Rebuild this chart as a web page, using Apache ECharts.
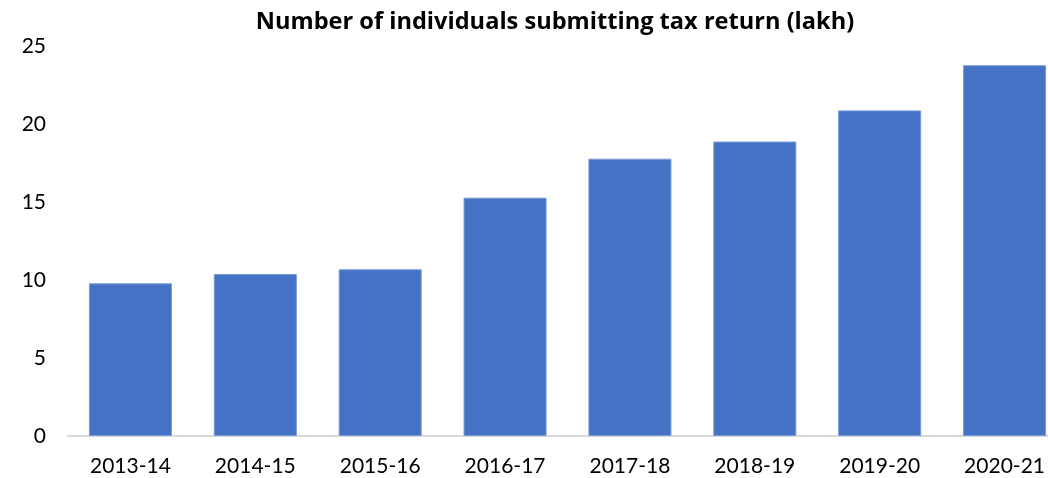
<!DOCTYPE html>
<html>
<head>
<meta charset="utf-8">
<script src="https://cdn.jsdelivr.net/npm/echarts@6/dist/echarts.min.js"></script>
<style>
  html, body { margin: 0; padding: 0; background: #fff; }
  #chart { width: 1048px; height: 478px; }
</style>
</head>
<body>
<div id="chart"></div>
<script>
// tax return filers per year (lakh)
var years = ["2013-14", "2014-15", "2015-16", "2016-17", "2017-18", "2018-19", "2019-20", "2020-21"];
var filers = [9.8, 10.4, 10.7, 15.3, 17.8, 18.9, 20.9, 23.8];

var myChart = echarts.init(document.getElementById("chart"));
var fontColor = "#000";

var option = {
  backgroundColor: "#fff",
  animation: false,
  title: {
    text: "Number of individuals submitting tax return (lakh)",
    left: 550,
    textAlign: "center",
    top: 5,
    textStyle: {
      fontFamily: "Open Sans",
      fontWeight: "bold",
      fontSize: 23.6,
      color: fontColor,
    },
  },
  grid: {
    left: 68,
    width: 999,
    top: 46.5,
    bottom: 42,
    containLabel: false,
    outerBoundsMode: "none",
  },
  xAxis: {
    type: "category",
    data: years,
    axisLine: {
      show: true,
      lineStyle: { color: "#d9d9d9", width: 2 },
    },
    axisTick: { show: false },
    axisLabel: {
      color: fontColor,
      fontFamily: "Lato",
      fontSize: 21,
      margin: 20,
    },
  },
  yAxis: {
    type: "value",
    min: 0,
    max: 25,
    interval: 5,
    axisLine: { show: false },
    axisTick: { show: false },
    splitLine: { show: false },
    axisLabel: {
      color: fontColor,
      fontFamily: "Lato",
      fontSize: 21,
      margin: 22,
    },
  },
  series: [
    {
      type: "bar",
      data: filers,
      barWidth: "66.5%",
      itemStyle: {
        color: "#4472c4",
        borderColor: "#7d9bd6",
        borderWidth: 1,
      },
    },
  ],
};

myChart.setOption(option);
</script>
</body>
</html>
